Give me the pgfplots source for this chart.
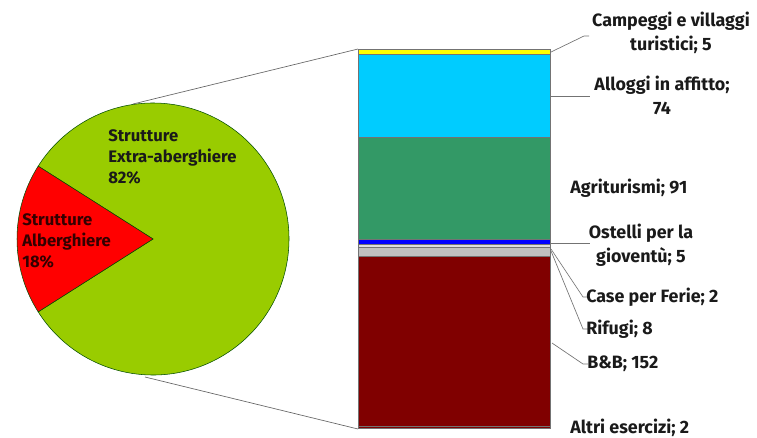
\documentclass[border=0pt]{standalone}
\usepackage{pgfplots}
\pgfplotsset{compat=1.18}
\usepackage{fontspec}
\setmainfont{Fira Sans}
\definecolor{pieGreen}{HTML}{99CC00}
\definecolor{pieRed}{HTML}{FF0000}
\definecolor{cYellow}{HTML}{FFFF00}
\definecolor{cLBlue}{HTML}{00CCFF}
\definecolor{cTeal}{HTML}{339966}
\definecolor{cBlue}{HTML}{0000FF}
\definecolor{cLGrey}{HTML}{DDDDDD}
\definecolor{cGrey}{HTML}{C0C0C0}
\definecolor{cDRed}{HTML}{800000}
\definecolor{txt}{HTML}{1A1A1A}
\newcommand{\lab}{\fontsize{13.4}{18}\selectfont\bfseries}
\newcommand{\plab}{\fontsize{12.5}{15.5}\selectfont\bfseries}
\begin{document}
\begin{tikzpicture}
\useasboundingbox (0,0) rectangle (567.75pt,327.75pt);
% ---------- pie ----------
\pgfmathsetmacro{\pA}{18}
\pgfmathsetmacro{\pB}{82}
\pgfmathsetmacro{\sA}{180-\pA*1.8}
\pgfmathsetmacro{\eA}{180+\pA*1.8}
\begin{axis}[at={(12.75pt,46.5pt)},anchor=south west,scale only axis,
  width=204pt,height=204pt,xmin=-1,xmax=1,ymin=-1,ymax=1,hide axis,clip=false]
\addplot[draw=none] coordinates {(0,0)};
\filldraw[fill=pieGreen,draw=black!70!green,line width=0.4pt] (axis cs:0,0) -- ++(\eA:102pt)
  arc[start angle=\eA,end angle=\sA+360,radius=102pt] -- cycle;
\filldraw[fill=pieRed,draw=black!70!green,line width=0.4pt] (axis cs:0,0) -- ++(\sA:102pt)
  arc[start angle=\sA,end angle=\eA,radius=102pt] -- cycle;
\end{axis}
% ---------- stacked bar ----------
\begin{axis}[at={(268.5pt,6.75pt)},anchor=south west,scale only axis,
  width=144pt,height=284.25pt,xmin=0,xmax=1,ymin=0,ymax=339,
  ybar stacked,bar width=144pt,hide axis,clip=false,
  every axis plot/.append style={draw=black!55,line width=0.4pt}]
\addplot[fill=cDRed] coordinates {(0.5,2)};   % Altri esercizi
\addplot[fill=cDRed] coordinates {(0.5,152)}; % B&B
\addplot[fill=cGrey] coordinates {(0.5,8)};   % Rifugi
\addplot[fill=cLGrey] coordinates {(0.5,2)};  % Case per Ferie
\addplot[fill=cBlue] coordinates {(0.5,5)};   % Ostelli
\addplot[fill=cTeal] coordinates {(0.5,91)};  % Agriturismi
\addplot[fill=cLBlue] coordinates {(0.5,74)}; % Alloggi
\addplot[fill=cYellow] coordinates {(0.5,5)}; % Campeggi
\end{axis}
% ---------- labels & leader lines (pixel frame) ----------
\begin{axis}[at={(0,0)},anchor=south west,scale only axis,
  width=567.75pt,height=327.75pt,xmin=0,xmax=757,ymin=0,ymax=437,
  y dir=reverse,hide axis,clip=false]
\addplot[draw=none] coordinates {(0,0)};
\draw[black!60,line width=0.5pt] (axis cs:133,104) -- (axis cs:358,49);
\draw[black!60,line width=0.5pt] (axis cs:145,377) -- (axis cs:358,429);
\begin{scope}[black!55,line width=0.5pt]
\draw (axis cs:551,52) -- (axis cs:584,36) -- (axis cs:589,36);
\draw (axis cs:551,96) -- (axis cs:590,96);
\draw (axis cs:551,243) -- (axis cs:590,243);
\draw (axis cs:551,249) -- (axis cs:583,297) -- (axis cs:588,297);
\draw (axis cs:551,251) -- (axis cs:583,329) -- (axis cs:588,329);
\draw (axis cs:552,343) -- (axis cs:583,364) -- (axis cs:588,364);
\end{scope}
\begin{scope}[every node/.style={inner sep=0pt,text=txt,font=\lab}]
\node[align=center] at (axis cs:671,33) {Campeggi e villaggi\\turistici; 5};
\node[align=center] at (axis cs:662,95) {Alloggi in affitto;\\74};
\node[anchor=west] at (axis cs:570,188) {Agriturismi; 91};
\node[align=center] at (axis cs:641,245) {Ostelli per la\\giovent\`u; 5};
\node[anchor=west] at (axis cs:586,297) {Case per Ferie; 2};
\node[anchor=west] at (axis cs:586,329) {Rifugi; 8};
\node[anchor=west] at (axis cs:587,364) {B\&B; 152};
\node[anchor=west] at (axis cs:570,428) {Altri esercizi; 2};
\node[anchor=west,align=left,font=\plab] at (axis cs:108,157) {Strutture\\Extra-aberghiere\\82\%};
\node[anchor=west,align=left,font=\plab,text=black!80!red] at (axis cs:22,241) {Strutture\\Alberghiere\\18\%};
\end{scope}
\end{axis}
\end{tikzpicture}
\end{document}
